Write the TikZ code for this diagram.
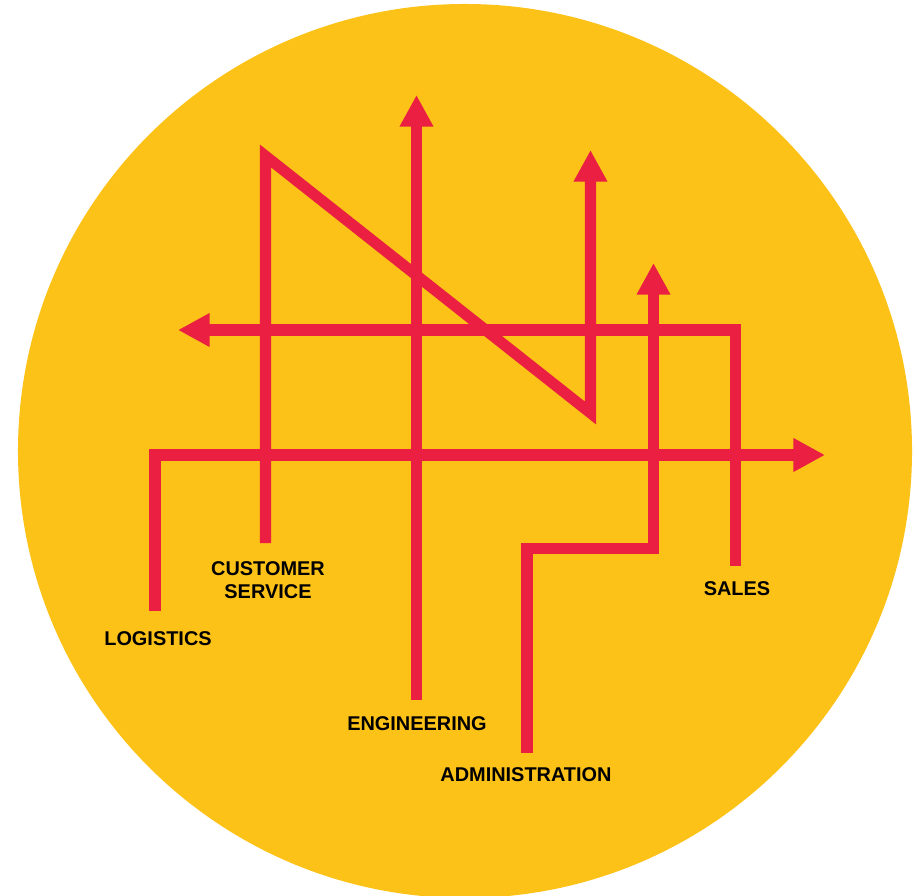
\documentclass[tikz,border=0pt]{standalone}
\usepackage{fontspec}
\setmainfont{Liberation Sans}
\usetikzlibrary{arrows.meta}
\definecolor{discYellow}{HTML}{FDC217}
\definecolor{flowRed}{HTML}{EA1F41}

\begin{document}
\begin{tikzpicture}[x=0.03cm, y=-0.03cm]
    \fontsize{17}{19.5}\selectfont\bfseries

    % Shapes
    \tikzstyle{flow}=[draw=flowRed, line width=9.4pt, line cap=butt, line join=miter]
    \tikzstyle{arrowflow}=[flow, -{Triangle[length=27pt, width=27pt]}]
    \tikzstyle{dept}=[inner sep=0pt, align=center, text=black]

    \useasboundingbox (0,0) rectangle (919,896);

    % Disc
    \fill[discYellow] (465,451) circle[radius=13.41cm];

    % Departments
    \node[dept] at (158,639) (logistics) {LOGISTICS};
    \node[dept] at (268,580) (customer) {CUSTOMER\\SERVICE};
    \node[dept] at (417,724) (engineering) {ENGINEERING};
    \node[dept] at (526,775) (admin) {ADMINISTRATION};
    \node[dept] at (737,589) (sales) {SALES};

    % Corners
    \coordinate (logStart) at (155,611);
    \coordinate (logBend) at (155,455);
    \coordinate (logEnd) at (825,455);

    \coordinate (custStart) at (265.5,543);
    \coordinate (custTop) at (265.5,156);
    \coordinate (custLow) at (590.5,413);
    \coordinate (custEnd) at (590.5,150);

    \coordinate (engStart) at (416.5,700);
    \coordinate (engEnd) at (416.5,95);

    \coordinate (admStart) at (527,753);
    \coordinate (admBendA) at (527,548.5);
    \coordinate (admBendB) at (653.5,548.5);
    \coordinate (admEnd) at (653.5,263);

    \coordinate (salStart) at (735.5,566);
    \coordinate (salBend) at (735.5,330);
    \coordinate (salEnd) at (178,330);

    % Flows
    \draw[arrowflow] (logStart) -- (logBend) -- (logEnd);
    \draw[arrowflow] (custStart) -- (custTop) -- (custLow) -- (custEnd);
    \draw[arrowflow] (engStart) -- (engEnd);
    \draw[arrowflow] (admStart) -- (admBendA) -- (admBendB) -- (admEnd);
    \draw[arrowflow] (salStart) -- (salBend) -- (salEnd);
\end{tikzpicture}
\end{document}
